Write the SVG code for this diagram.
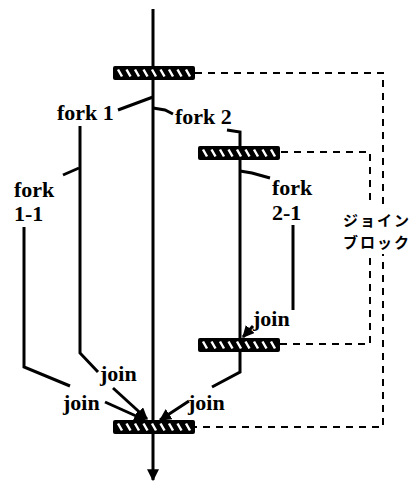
<svg xmlns="http://www.w3.org/2000/svg" width="418" height="487" viewBox="0 0 418 487">
<defs>
<style>
.ln{fill:none;stroke:#000;stroke-width:3;stroke-linejoin:miter}
.ds{fill:none;stroke:#000;stroke-width:2;stroke-dasharray:7 6}
.ar{fill:none;stroke:#000;stroke-width:3}
.lb{font-family:"Liberation Serif","Times New Roman",serif;font-weight:bold;font-size:22px;fill:#000}
.jp{font-family:"Noto Sans CJK JP","Noto Sans",sans-serif;font-weight:bold;font-size:15px;letter-spacing:2px;fill:#000}
</style>
<marker id="ah" viewBox="0 0 10 10" refX="9" refY="5" markerWidth="4" markerHeight="4" orient="auto" markerUnits="strokeWidth">
<path d="M0,0 L10,5 L0,10 Z" fill="#000"/>
</marker>
<g id="bar">
<rect x="0" y="0" width="82" height="14" rx="2" fill="#000"/>
<path d="M5,3.5 L9,10.5 M13.5,3.5 L17.5,10.5 M22,3.5 L26,10.5 M30.5,3.5 L34.5,10.5 M39,3.5 L43,10.5 M47.5,3.5 L51.5,10.5 M56,3.5 L60,10.5 M64.5,3.5 L68.5,10.5 M73,3.5 L77,10.5" stroke="#fff" stroke-width="2.5" fill="none"/>
</g>
</defs>
<rect width="418" height="487" fill="#fff"/>

<g id="connectors">
<path class="ln" d="M153,9 V480" marker-end="url(#ah)"/>
<path class="ds" d="M195,73 H383 V427 H194"/>
<path class="ds" d="M281,152 H370 V344 H280"/>
<path class="ln" d="M153,97 L118,110"/>
<path class="ln" d="M153,108 L165,110 L173,114"/>
<path class="ln" d="M227,130 L240,132 V146"/>
<path class="ln" d="M80,126 V353 L98,372"/>
<path class="ln" d="M79,168 L63,175"/>
<path class="ln" d="M24,227 V367 L70,386"/>
<path class="ln" d="M240,159 V372 L212,387"/>
<path class="ln" d="M240,171 L252,173 L270,178"/>
<path class="ln" d="M293,225 V310"/>
<path class="ar" d="M253,326 L243,337" marker-end="url(#ah)"/>
<path class="ar" d="M113,388 L147,419" marker-end="url(#ah)"/>
<path class="ar" d="M105,402 L145,420" marker-end="url(#ah)"/>
<path class="ar" d="M189,401 L160,420" marker-end="url(#ah)"/>
</g>

<g id="bar-top"><use href="#bar" x="113" y="66"/></g>
<g id="bar-fork2"><use href="#bar" x="198" y="146"/></g>
<g id="bar-join2"><use href="#bar" x="198" y="338"/></g>
<g id="bar-bottom"><use href="#bar" x="113" y="420"/></g>

<g id="labels">
<text class="lb" x="57" y="120">fork 1</text>
<text class="lb" x="175" y="124">fork 2</text>
<text class="lb" x="14" y="197">fork</text>
<text class="lb" x="14" y="221">1-1</text>
<text class="lb" x="272" y="195">fork</text>
<text class="lb" x="272" y="220">2-1</text>
<text class="lb" x="253" y="326">join</text>
<text class="lb" x="100" y="381">join</text>
<text class="lb" x="63" y="410">join</text>
<text class="lb" x="188" y="410">join</text>
</g>

<g id="join-block-label">
<rect x="340" y="206" width="74" height="48" fill="#fff"/>
<text class="jp" x="343" y="226">ジョイン</text>
<text class="jp" x="343" y="248">ブロック</text>
</g>
</svg>
